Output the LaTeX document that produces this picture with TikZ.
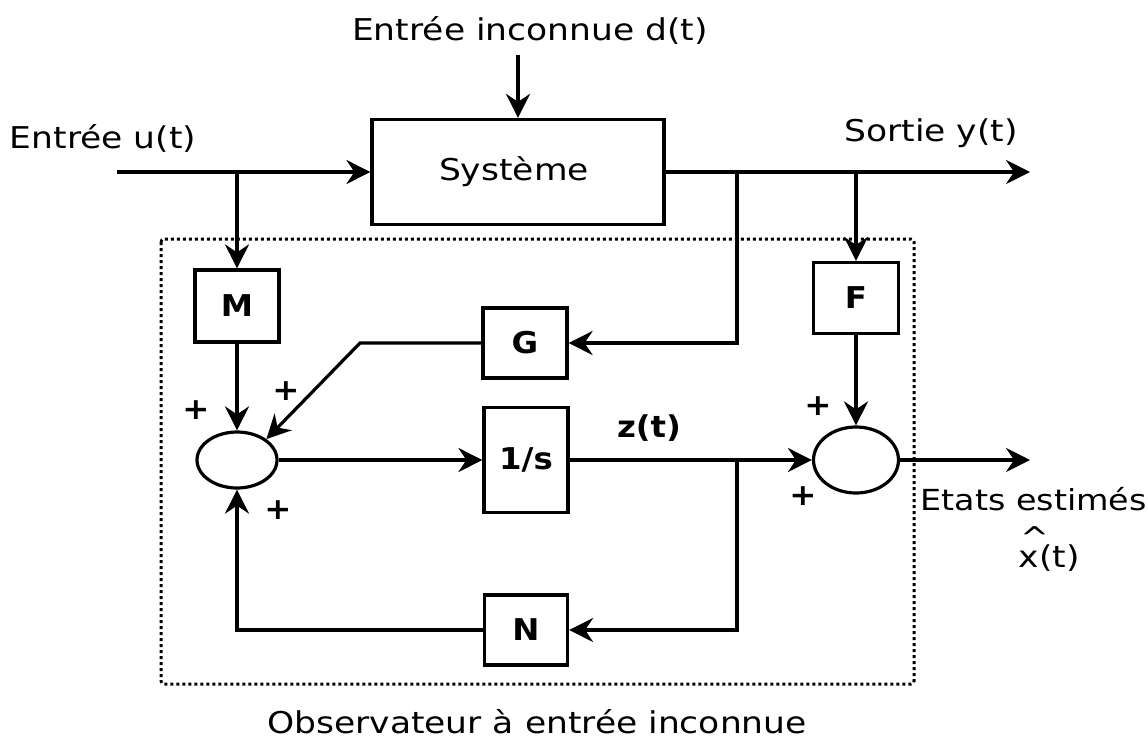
\documentclass[tikz,border=0pt]{standalone}
\usepackage{fontspec}
\setmainfont{DejaVu Sans}[FakeStretch=1.15]
\newfontfamily\bfam{DejaVu Sans}[FakeStretch=1.08]
\usetikzlibrary{arrows.meta,shapes.geometric}
\begin{document}
\begin{tikzpicture}[x=1pt,y=-1pt,
  line width=3.2pt,
  txt/.style={font=\fontsize{30}{35}\selectfont, inner sep=0pt},
  btxt/.style={font=\bfam\bfseries\fontsize{30}{35}\selectfont, inner sep=0pt},
  blk/.style={draw, rectangle, inner sep=0pt, font=\bfam\bfseries\fontsize{30}{35}\selectfont},
  sum/.style={draw, ellipse, inner sep=0pt},
  arr/.style={-{Stealth[length=24pt,width=24pt,inset=8pt]}},
  obs/.style={line width=3pt, dash pattern=on 3pt off 3pt, rounded corners=3pt}]
\useasboundingbox (0,0) rectangle (1148,740);
% observer frame
\draw[obs] (161,239) rectangle (914,684);
% blocks
\node[draw, rectangle, minimum width=292pt, minimum height=105pt, txt] (sys) at (518,172) {};
\node[txt] (systxt) at (514,172) {Système};
\node[blk, minimum width=84pt, minimum height=72pt] (M) at (237,306) {M};
\node[blk, minimum width=84pt, minimum height=70pt] (G) at (525,343) {G};
\node[blk, minimum width=84pt, minimum height=105pt] (I) at (526,460) {1/s};
\node[blk, minimum width=83pt, minimum height=70pt] (N) at (526,630) {N};
\node[blk, minimum width=85pt, minimum height=71pt] (F) at (856,298) {F};
\node[sum, minimum width=80pt, minimum height=56pt] (s1) at (237,460) {};
\node[sum, minimum width=85pt, minimum height=66pt] (s2) at (856,460) {};
% free ends and junctions
\coordinate (din) at (518,55);
\coordinate (uin) at (117,172);
\coordinate (yout) at (1030,172);
\coordinate (xout) at (1030,460);
\coordinate (j1) at (237,172);
\coordinate (j2) at (737,172);
\coordinate (j3) at (856,172);
\coordinate (j4) at (737,460);
\coordinate (gk) at (360,343);
% connectors
\draw[arr] (din) -- (sys.north);
\draw[arr] (uin) -- (sys.west);
\draw[arr] (sys.east) -- (yout);
\draw[arr] (j1) -- (M.north);
\draw[arr] (j2) |- (G.east);
\draw[arr] (j3) -- (F.north);
\draw[arr] (G.west) -- (gk) -- (s1.north east);
\draw[arr] (M.south) -- (s1.north);
\draw[arr] (s1.east) -- (I.west);
\draw[arr] (I.east) -- (s2.west);
\draw[arr] (j4) |- (N.east);
\draw[arr] (N.west) -| (s1.south);
\draw[arr] (F.south) -- (s2.north);
\draw[arr] (s2.east) -- (xout);
% labels
\node[txt] (ld) at (530,30) {Entrée inconnue d(t)};
\node[txt] (lu) at (103,138) {Entrée u(t)};
\node[txt] (ly) at (931,133) {Sortie y(t)};
\node[btxt] (lz) at (649,428) {z(t)};
\node[txt, font=\fontsize{29}{34}\selectfont, anchor=west] (lx) at (919,499) {Etats estimés};
\node[txt, anchor=base west] (lxt) at (1017,567) {\rlap{\raisebox{19pt}{\hspace{2pt}\textasciicircum}}x(t)};
\node[txt] (lobs) at (537,722) {Observateur à entrée inconnue};
\node[btxt] (p1) at (196,410) {+};
\node[btxt] (p2) at (286,391) {+};
\node[btxt] (p3) at (278,510) {+};
\node[btxt] (p4) at (818,406) {+};
\node[btxt] (p5) at (803,496) {+};
\end{tikzpicture}
\end{document}
